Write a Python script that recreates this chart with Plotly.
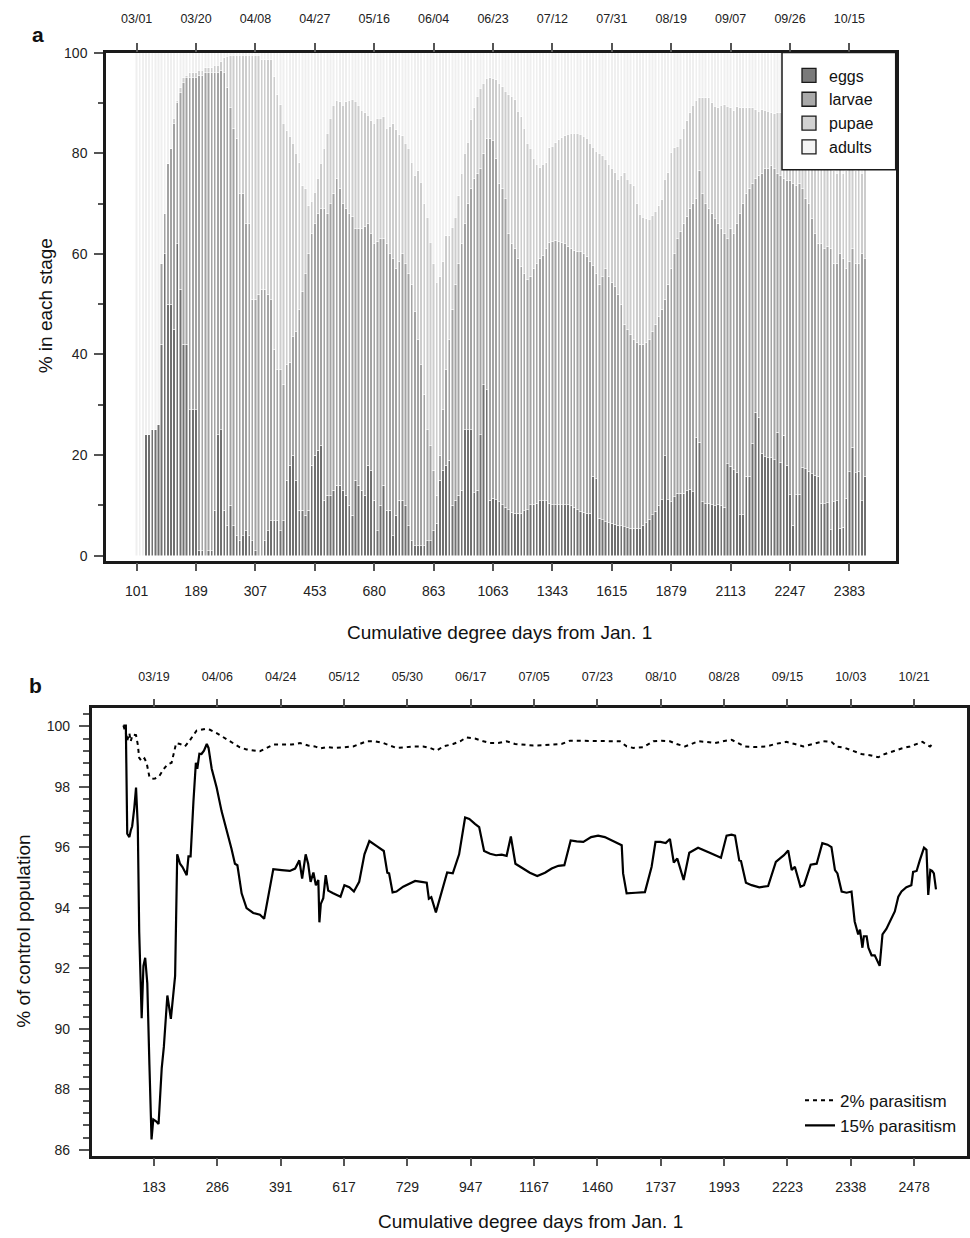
import numpy as np
import plotly.graph_objects as go

# ---- panel a: share of the population in each stage, one bar per day (day of year, 60 = 03/01)
days_a = list(range(60, 294))

eggs = [0, 0, 0, 24, 24, 25, 25, 26, 42, 60,
        50, 50, 45, 62, 53, 42, 42, 29, 29, 29,
        1, 1, 0, 1, 1, 9, 24, 25, 9, 6,
        10, 6, 4, 3, 4, 5, 4, 3, 1, 0,
        0, 3, 5, 7, 7, 7, 5, 7, 15, 18,
        20, 15, 9, 9, 8, 9, 18, 20, 21, 22,
        11, 12, 12, 13, 14, 14, 13, 12, 10, 8,
        15, 14, 13, 12, 18, 17, 11, 5, 10, 14,
        9, 9, 4, 8, 11, 11, 10, 6, 3, 2,
        2, 2, 2, 3, 3, 5, 6.5, 15, 17, 18,
        19, 10, 11, 12, 13, 25, 25, 25, 12.5, 13,
        24, 34, 33, 11, 11.4, 11.1, 10.7, 10.1, 9.6, 9.1,
        8.6, 8.4, 8.4, 8.4, 8.9, 9.1, 10.1, 10.1, 10.4, 10.9,
        10.9, 10.9, 10.4, 10.1, 10.1, 10.1, 10.1, 10.1, 10.1, 9.9,
        9.6, 9.1, 8.8, 8.6, 8.4, 8.4, 15.8, 15.3, 7.4, 7.1,
        6.8, 6.6, 6.5, 6.3, 6.1, 6.0, 5.8, 5.7, 5.5, 5.5,
        5.5, 5.5, 6.1, 6.6, 7.2, 8.1, 8.8, 9.9, 11.1, 19.9,
        11.1, 10.7, 11.7, 12.4, 12.4, 12.4, 12.9, 13.2, 12.7, 23.4,
        22.6, 10.7, 10.4, 10.4, 10.1, 9.9, 10.1, 9.9, 9.6, 18.3,
        17.8, 17.1, 16.5, 8.1, 8.1, 15.8, 15.8, 22.4, 28.5, 27.5,
        20.4, 19.7, 19.5, 19.5, 19.1, 24.5, 18.6, 23.9, 18, 12.1,
        6.1, 12.1, 12.2, 17.6, 17.3, 16.8, 16.3, 16, 15.8, 10.4,
        10.3, 10.5, 5.3, 10.7, 10.9, 5.5, 5.7, 11.4, 16.7, 21.6,
        16.5, 16.8, 10.9, 15.8]

# cumulative: eggs + larvae
eggs_larvae = [0, 0, 0, 24, 24, 25, 25, 26, 58, 68,
               78, 81, 86, 90, 92, 94, 95, 95, 95, 95,
               95.5, 95.5, 96, 96, 96, 96, 96, 96.5, 96, 93,
               89, 85, 83, 72, 72, 66, 66, 51, 51, 52,
               53, 53, 52, 51, 41, 37, 37, 34, 38, 38.5,
               43.5, 44.5, 49, 52.5, 56, 60, 64, 66, 68, 69,
               69, 68, 70, 72, 75, 73, 70, 69, 68, 67.5,
               65, 65, 65, 65.5, 66, 64, 62, 62.5, 63, 63,
               62, 60, 59, 57, 58.5, 60, 58, 56, 54, 48.5,
               43, 38, 32, 25, 22, 17, 12, 20, 29, 37,
               43, 49, 54, 58, 62, 66, 70, 73, 75, 76,
               77, 80, 83, 83, 82.5, 79, 74, 73, 71, 64,
               62, 61, 59, 57.5, 56, 55, 55.5, 57, 58, 59,
               59.7, 61, 62.3, 62.5, 62.7, 62.5, 62.3, 62, 61.5, 61,
               60.7, 60.5, 60.4, 60, 59.4, 58.5, 57.7, 56, 54, 55.5,
               57, 55.5, 54.4, 53.5, 52, 50, 46, 45, 44, 43,
               42.3, 42, 42, 42.3, 43, 44.6, 46, 47.5, 49, 51,
               54, 57, 60, 63, 64.5, 66, 67.5, 69, 70, 71,
               76.5, 72, 70, 69, 68, 67, 66, 65, 64, 63,
               65, 64, 66, 68, 70, 72, 73, 74, 75, 75.5,
               76, 77, 77, 77.5, 77, 76, 75.5, 75, 74.5, 74.5,
               74, 73.5, 74, 73, 71, 70, 67, 64, 62, 62,
               61, 61.5, 61, 58, 58, 60, 59, 57, 58.5, 61,
               58, 58, 60, 59]

# cumulative: eggs + larvae + pupae (rest are adults)
eggs_larvae_pupae = [0, 0, 0, 24, 24, 25, 25, 26, 58, 68,
                     78, 81, 87, 90.5, 93, 95, 95.5, 96, 96, 96,
                     96.5, 96.5, 97, 97, 97, 97.5, 97.5, 98.2, 99, 99.3,
                     99.4, 99.5, 99.5, 99.5, 99.5, 99.5, 99.5, 99.5, 99.5, 99.5,
                     98.6, 98.6, 98.6, 98.6, 95.2, 91.6, 89.6, 86, 84.5, 83.4,
                     82, 80, 78.1, 73.5, 72.9, 69.6, 70.5, 72.2, 75, 78,
                     81, 84, 87, 89.5, 90.5, 90.2, 89.5, 90.2, 90.5, 90.7,
                     90.3, 89.5, 88.5, 88, 87.5, 86.5, 86, 87, 87, 87.3,
                     85, 85.3, 85.9, 84.7, 83.7, 83.5, 82, 81, 78.2, 75.5,
                     76.5, 74.2, 70, 67.3, 62.3, 58, 54.4, 55.4, 58.4, 63.6,
                     63.6, 65.3, 67.3, 71.5, 76, 80, 82.2, 86.7, 89, 91.3,
                     92.9, 93.9, 94.9, 95, 94.9, 94.6, 93.9, 93.2, 92.3, 91.6,
                     91.3, 90.6, 88.3, 87.3, 85, 82, 81, 79, 77.8, 77.1,
                     77.8, 78.1, 81.1, 81.4, 82.1, 82.7, 83.1, 83.5, 83.8, 84,
                     84, 84, 83.8, 83.4, 83, 82, 81.2, 80.4, 80, 79.5,
                     78.8, 77.8, 77, 76.1, 74.8, 75.5, 76.1, 74.8, 74, 73.5,
                     70, 67.9, 67.3, 67, 66.9, 67.6, 68.5, 69.6, 70.9, 74.8,
                     76.1, 80.1, 81.1, 81.4, 83, 85, 86.5, 88, 89.5, 90.5,
                     91, 91, 91, 91, 90, 89.3, 89, 89.5, 89.6, 89.3,
                     89, 88.4, 89.2, 89, 89, 89, 89, 89, 88.6, 88.3,
                     88.6, 88.5, 88.3, 88, 87.8, 88, 88, 87.5, 87.5, 87,
                     86.5, 86, 85, 83, 80, 78, 77.5, 77, 77, 77,
                     77, 76.8, 77, 76.5, 76, 77, 76, 76.5, 77, 77,
                     76.5, 77, 76, 77]

a_tick_days = [60, 79, 98, 117, 136, 155, 174, 193, 212, 231, 250, 269, 288]
a_dd_labels = ['101', '189', '307', '453', '680', '863', '1063', '1343',
               '1615', '1879', '2113', '2247', '2383']
a_date_labels = ['03/01', '03/20', '04/08', '04/27', '05/16', '06/04', '06/23',
                 '07/12', '07/31', '08/19', '09/07', '09/26', '10/15']

# ---- panel b: population relative to control
p15_days = [69.3, 70, 70.4, 71, 71.4, 71.8, 72.4, 72.9, 73.4, 73.8, 74.5, 75, 75.5, 76.1,
            76.7, 77.3, 77.8, 78.6, 79.3, 80.2, 80.8, 81.8, 82.8, 84, 84.6, 85.4, 86.1,
            87.3, 87.8, 88.4, 89.2, 89.9, 90.3, 90.9, 91.5, 92.2, 93, 93.5, 94.4, 95.8,
            97.2, 98.6, 100, 101, 101.7, 102.9, 104.3, 106.2, 108.1, 109.3, 110.5, 111.9,
            114.3, 116.6, 118.1, 119.3, 120.1, 121.1, 121.8, 122.5, 123.3, 124, 124.7,
            125, 125.4, 126.1, 126.8, 127.5, 128.9, 131, 132.1, 133.5, 134.8, 136.3,
            137.8, 139.2, 141.3, 143.3, 144.3, 144.8, 145.8, 146.9, 148.8, 150.7, 152.2,
            154, 155.5, 156.1, 156.8, 158.1, 159.7, 161.3, 162.9, 164.7, 166.4, 167.6,
            169.2, 170.4, 171.8, 173.5, 175.2, 176.8, 178.2, 179.4, 180.7, 182.5, 184.8,
            186.9, 189.1, 191, 192.9, 194.6, 196.4, 198.1, 200, 202.2, 204.2, 206.1, 208,
            209.7, 210.9, 211.3, 212.3, 214.9, 217.5, 219.4, 220.5, 221.9, 223.4, 224.6,
            225.7, 226.7, 228.5, 230.1, 232.6, 235.9, 239.1, 240.7, 242.1, 243.1, 244.3,
            244.8, 246.2, 247.8, 250, 252.5, 254.7, 255.8, 257, 258.2, 259.2, 260.1,
            261.7, 262.7, 264.6, 266.3, 267.9, 269.4, 270.5, 271.5, 272.2, 273.4, 274.8,
            276.2, 276.7, 277.1, 278.1, 278.6, 279.3, 279.7, 280.5, 281, 281.9, 282.8,
            284.2, 285, 286.1, 287.3, 288.5, 289.5, 290.4, 291.8, 293.2, 293.7, 294.7,
            295.6, 296.8, 297.5, 298, 298.6, 299.1, 299.6, 300.2]
p15_vals = [100.03, 100.03, 96.45, 96.34, 96.56, 96.7, 97.3, 97.98, 96.7, 93.2, 90.35,
            92.08, 92.35, 91.5, 88.8, 86.34, 87, 86.94, 86.85, 88.7, 89.4, 91.1, 90.33,
            91.75, 95.77, 95.46, 95.35, 95.08, 95.7, 95.7, 97.5, 98.8, 98.6, 99.1, 99.09,
            99.2, 99.42, 99.29, 98.6, 97.98, 97.2, 96.6, 95.96, 95.46, 95.41, 94.48,
            93.99, 93.83, 93.77, 93.64, 94.37, 95.28, 95.25, 95.22, 95.3, 95.57, 94.97,
            95.77, 95.46, 94.86, 95.17, 94.75, 94.92, 93.52, 94.13, 94.32, 95.08, 94.57,
            94.48, 94.37, 94.75, 94.68, 94.54, 94.86, 95.77, 96.21, 96.04, 95.88, 95.16,
            95.14, 94.51, 94.54, 94.7, 94.81, 94.89, 94.86, 94.83, 94.3, 94.35, 93.85,
            94.48, 95.17, 95.14, 95.77, 96.99, 96.94, 96.78, 96.67, 95.88, 95.79, 95.74,
            95.76, 95.72, 96.36, 95.46, 95.32, 95.16, 95.05, 95.16, 95.3, 95.39, 95.41,
            96.23, 96.2, 96.18, 96.34, 96.39, 96.34, 96.23, 96.12, 96.07, 95.14, 94.48,
            94.5, 94.52, 95.36, 96.18, 96.18, 96.14, 96.28, 95.5, 95.63, 94.92, 95.82,
            95.99, 95.82, 95.66, 96.39, 96.42, 96.39, 95.57, 95.55, 94.83, 94.75, 94.68,
            94.72, 95.52, 95.63, 95.74, 95.9, 95.25, 95.36, 94.7, 94.75, 95.43, 95.46,
            96.14, 96.09, 96.01, 95.25, 95.14, 94.54, 94.5, 94.54, 93.83, 93.55, 93.12,
            93.28, 92.68, 93.06, 93.06, 92.68, 92.43, 92.43, 92.08, 93.12, 93.3, 93.61,
            93.88, 94.37, 94.54, 94.68, 94.75, 95.19, 95.22, 95.57, 95.99, 95.92, 94.43,
            95.25, 95.22, 95.14, 94.61]

p2_days = [69.3, 70, 70.4, 71, 71.4, 71.9, 72.9, 73.4, 73.8, 74.5, 75.3, 75.9, 76.7, 77.3,
           78.3, 79.5, 80.7, 81.8, 83, 84.3, 85.4, 86.8, 88, 90.1, 92.5, 93.9, 95.8, 97.7,
           100, 102.4, 104.3, 106.2, 108.1, 110, 111.9, 114.7, 117.1, 119.5, 121.8, 123.7,
           125.2, 127.1, 129.4, 131.8, 134.6, 136.5, 138.4, 140.8, 143.2, 145, 146.9,
           149.3, 151.7, 154.5, 156.4, 158.3, 160.2, 163, 165, 166.8, 169.2, 171.6, 173.5,
           175.8, 178.2, 180.6, 182.9, 185.8, 188.6, 191.4, 193.8, 196.2, 199, 201.9,
           204.7, 207.5, 210.4, 212.3, 214.2, 217, 219.9, 222.2, 224.6, 226.5, 228.9,
           230.3, 232.6, 235, 237.4, 239.7, 242.1, 244, 245.9, 248.7, 252, 254.9, 257.7,
           260.1, 262.5, 265.3, 268.2, 270.5, 271.9, 274.3, 276.7, 279, 281.4, 283.8,
           285.7, 288, 290.4, 292.8, 294.9, 296.4, 297.5, 298.5, 299.2]
p2_vals = [100.03, 99.78, 99.53, 99.78, 99.51, 99.73, 99.71, 99.4, 98.96, 98.85, 98.94,
           98.8, 98.33, 98.27, 98.28, 98.36, 98.58, 98.74, 98.8, 99.45, 99.42, 99.34,
           99.51, 99.86, 99.92, 99.89, 99.78, 99.64, 99.49, 99.31, 99.24, 99.2, 99.18,
           99.29, 99.4, 99.4, 99.4, 99.45, 99.37, 99.34, 99.27, 99.32, 99.29, 99.31,
           99.34, 99.42, 99.51, 99.51, 99.45, 99.37, 99.29, 99.31, 99.34, 99.34, 99.29,
           99.2, 99.34, 99.42, 99.51, 99.64, 99.6, 99.51, 99.45, 99.45, 99.51, 99.42,
           99.4, 99.37, 99.38, 99.4, 99.42, 99.53, 99.53, 99.53, 99.53, 99.53, 99.51,
           99.34, 99.29, 99.31, 99.51, 99.53, 99.51, 99.42, 99.34, 99.4, 99.51, 99.49,
           99.45, 99.51, 99.56, 99.45, 99.34, 99.32, 99.34, 99.43, 99.49, 99.42, 99.34,
           99.42, 99.51, 99.49, 99.34, 99.29, 99.2, 99.09, 99.05, 98.98, 99.09, 99.18,
           99.27, 99.34, 99.42, 99.49, 99.4, 99.34, 99.42]

b_tick_days = [78, 96, 114, 132, 150, 168, 186, 204, 222, 240, 258, 276, 294]
b_dd_labels = ['183', '286', '391', '617', '729', '947', '1167', '1460', '1737',
               '1993', '2223', '2338', '2478']
b_date_labels = ['03/19', '04/06', '04/24', '05/12', '05/30', '06/17', '07/05',
                 '07/23', '08/10', '08/28', '09/15', '10/03', '10/21']

assert len(eggs) == len(eggs_larvae) == len(eggs_larvae_pupae) == len(days_a)
assert len(p15_days) == len(p15_vals) and len(p2_days) == len(p2_vals)

e = np.array(eggs, dtype=float)
el = np.array(eggs_larvae, dtype=float)
elp = np.array(eggs_larvae_pupae, dtype=float)
stages = {
    'eggs': e,
    'larvae': np.clip(el - e, 0, None),
    'pupae': np.clip(elp - el, 0, None),
    'adults': np.clip(100 - elp, 0, None),
}
bar_colors = {'eggs': '#707070', 'larvae': '#a3a3a3', 'pupae': '#cdcdcd', 'adults': '#efefef'}
key_colors = {'eggs': '#7a7a7a', 'larvae': '#aaaaaa', 'pupae': '#d2d2d2', 'adults': '#f4f4f4'}

W, H = 970, 1238
FONT = 'Liberation Sans, Arial, sans-serif'
INK = '#1a1a1a'

fig = go.Figure()

for name, vals in stages.items():
    fig.add_trace(go.Bar(
        x=days_a, y=vals, name=name,
        marker=dict(color=bar_colors[name], line=dict(color='white', width=0.5)),
        showlegend=False, hoverinfo='skip', xaxis='x', yaxis='y'))

# legend keys for panel a (bar legend symbols would pick up the white outline)
for name in stages:
    fig.add_trace(go.Scatter(
        x=[None], y=[None], mode='markers', name=name,
        marker=dict(symbol='square', size=14, color=key_colors[name],
                    line=dict(color=INK, width=1.3)),
        xaxis='x3', yaxis='y', legend='legend'))

# the 2% line sits on the top (date) axis of panel b, which has the same range
fig.add_trace(go.Scatter(
    x=p2_days, y=p2_vals, mode='lines', name='2% parasitism',
    line=dict(color='black', width=2, dash='4px,4px'),
    xaxis='x4', yaxis='y2', legend='legend2'))
fig.add_trace(go.Scatter(
    x=p15_days, y=p15_vals, mode='lines', name='15% parasitism',
    line=dict(color='black', width=2.2),
    xaxis='x2', yaxis='y2', legend='legend2'))


def px_x(a, b):
    return [a / W, b / W]


def px_y(top, bottom):
    return [1 - bottom / H, 1 - top / H]


def note(text, x, y, size=19, angle=0):
    return dict(text=text, x=x / W, y=1 - y / H, xref='paper', yref='paper',
                xanchor='center', yanchor='middle', textangle=angle,
                showarrow=False, font=dict(size=size, color='#111'))


frame = dict(showline=True, linewidth=2.5, linecolor=INK, mirror=True,
             showgrid=False, zeroline=False, ticks='outside', tickcolor='#555',
             tickwidth=1.5)

fig.update_layout(
    width=W, height=H,
    margin=dict(l=0, r=0, t=0, b=0),
    paper_bgcolor='white', plot_bgcolor='white',
    barmode='stack', bargap=0.25,
    font=dict(family=FONT, color='#222'),
    xaxis=dict(domain=px_x(106, 895.7), anchor='y', range=[50.2, 302.8],
               tickmode='array', tickvals=a_tick_days, ticktext=a_dd_labels,
               ticklen=8, tickfont=dict(size=14), ticklabelstandoff=8, **frame),
    xaxis3=dict(overlaying='x', anchor='y', side='top', range=[50.2, 302.8],
                tickmode='array', tickvals=a_tick_days, ticktext=a_date_labels,
                ticks='outside', ticklen=9, tickcolor='#555', tickwidth=1.5,
                tickfont=dict(size=12.5), ticklabelstandoff=15,
                showline=False, showgrid=False, zeroline=False),
    yaxis=dict(domain=px_y(45, 557.7), anchor='x', range=[-1, 100],
               tickmode='array', tickvals=[0, 20, 40, 60, 80, 100], ticklen=9,
               minor=dict(tickmode='array', tickvals=[10, 30, 50, 70, 90],
                          ticks='outside', ticklen=5, tickcolor='#555', tickwidth=1.5),
               tickfont=dict(size=14), ticklabelstandoff=4, **frame),
    xaxis2=dict(domain=px_x(91.7, 967.3), anchor='y2', range=[60.3, 309.1],
                tickmode='array', tickvals=b_tick_days, ticktext=b_dd_labels,
                ticklen=8, tickfont=dict(size=14), ticklabelstandoff=9, **frame),
    xaxis4=dict(overlaying='x2', anchor='y2', side='top', range=[60.3, 309.1],
                tickmode='array', tickvals=b_tick_days, ticktext=b_date_labels,
                ticks='outside', ticklen=8, tickcolor='#555', tickwidth=1.5,
                tickfont=dict(size=12.5), ticklabelstandoff=13,
                showline=False, showgrid=False, zeroline=False),
    yaxis2=dict(domain=px_y(706, 1158), anchor='x2', range=[85.8, 100.62],
                tickmode='array', tickvals=list(range(86, 101, 2)), ticklen=10,
                minor=dict(tickmode='array', tickvals=list(np.round(np.arange(86, 100.5, 0.4), 1)),
                           ticks='outside', ticklen=6, tickcolor='#555', tickwidth=1.5),
                tickfont=dict(size=14), ticklabelstandoff=6, **frame),
    legend=dict(x=789 / W, y=1 - 51 / H, xanchor='left', yanchor='top',
                traceorder='normal', bgcolor='rgba(0,0,0,0)', borderwidth=0,
                font=dict(size=16, family=FONT, color='#111'), tracegroupgap=0),
    legend2=dict(x=962 / W, y=1 - 1146 / H, xanchor='right', yanchor='bottom',
                 traceorder='normal', bgcolor='rgba(0,0,0,0)', borderwidth=0,
                 font=dict(size=17, family=FONT, color='#111')),
    shapes=[dict(type='rect', xref='paper', yref='paper',
                 x0=782 / W, x1=895.7 / W, y0=1 - 163.3 / H, y1=1 - 45 / H,
                 line=dict(color=INK, width=1.5), fillcolor='white', layer='above')],
    annotations=[
        note('<b>a</b>', 38, 27, size=21),
        note('<b>b</b>', 35, 684, size=21),
        note('Cumulative degree days from Jan. 1', 500, 630),
        note('Cumulative degree days from Jan. 1', 530, 1224),
        note('% in each stage', 45, 301, angle=-90),
        note('% of control population', 24, 932, angle=-90),
    ],
)

fig.write_html('out.html',
               config={'displayModeBar': False},
               post_script="document.body.style.margin='0';document.body.style.overflow='hidden';")
